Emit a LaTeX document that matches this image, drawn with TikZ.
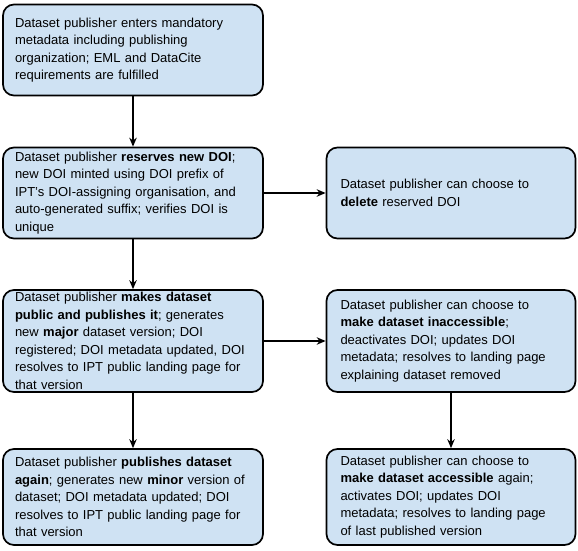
\documentclass[tikz,border=0pt]{standalone}
\usepackage{fontspec}
\setmainfont{Liberation Sans}
\usetikzlibrary{arrows.meta}
\definecolor{boxblue}{RGB}{207,226,243}
\tikzset{
  stepbox/.style={rectangle, draw, line width=1.7pt, rounded corners=11pt, fill=boxblue,
    align=left, inner ysep=0pt, font=\fontsize{13}{17.5}\selectfont},
  leftbox/.style={stepbox, text width=236pt, inner xsep=12pt},
  rightbox/.style={stepbox, text width=221pt, inner xsep=14pt},
  flow/.style={line width=1.5pt, -{Stealth[length=9pt,width=7.5pt,inset=3pt]}}
}
\begin{document}
\begin{tikzpicture}[x=1pt, y=-1pt]
        \useasboundingbox (0, 0) rectangle (578, 551);
        \node (enter) at (133, 50) [leftbox, minimum height=91pt] {Dataset publisher enters mandatory\\ metadata including publishing\\ organization; EML and DataCite\\ requirements are fulfilled};
        \node (reserve) at (133, 193) [leftbox, minimum height=91pt] {Dataset publisher \textbf{reserves new DOI};\\ new DOI minted using DOI prefix of\\ IPT's DOI-assigning organisation, and\\ auto-generated suffix; verifies DOI is\\ unique};
        \node (delete) at (451, 193) [rightbox, minimum height=91pt] {Dataset publisher can choose to\\ \textbf{delete} reserved DOI};
         
        \node (publish) at (133, 341) [leftbox, minimum height=102pt] {Dataset publisher \textbf{makes dataset}\\ \textbf{public and publishes it}; generates\\ new \textbf{major} dataset version; DOI\\ registered; DOI metadata updated, DOI\\ resolves to IPT public landing page for\\ that version};
        \node (hide) at (451, 341) [rightbox, minimum height=102pt] {Dataset publisher can choose to\\ \textbf{make dataset inaccessible};\\ deactivates DOI; updates DOI\\ metadata; resolves to landing page\\ explaining dataset removed};
         
        \node (again) at (133, 497) [leftbox, minimum height=96pt] {Dataset publisher \textbf{publishes dataset}\\ \textbf{again}; generates new \textbf{minor} version of\\ dataset; DOI metadata updated; DOI\\ resolves to IPT public landing page for\\ that version};
        \node (show) at (451, 497) [rightbox, minimum height=96pt] {Dataset publisher can choose to\\ \textbf{make dataset accessible} again;\\ activates DOI; updates DOI\\ metadata; resolves to landing page\\ of last published version};
         
        \draw[flow] (enter) -- (reserve);
        \draw[flow] (reserve) -- (delete);
        \draw[flow] (reserve) -- (publish);
        \draw[flow] (publish) -- (hide);
        \draw[flow] (publish) -- (again);
        \draw[flow] (hide) -- (show);
\end{tikzpicture}
\end{document}
